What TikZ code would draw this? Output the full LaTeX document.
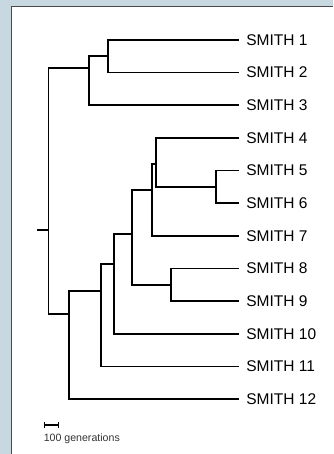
\documentclass[tikz,border=0pt]{standalone}
\usepackage{fontspec}
\setmainfont{Liberation Sans}
\definecolor{framebg}{HTML}{C7D8E1}
\definecolor{frameedge}{HTML}{4A4A4A}
\begin{document}
\begin{tikzpicture}[x=1pt,y=-1pt,
  branch/.style={line width=1.7pt, line cap=rect, line join=miter},
  tiplabel/.style={anchor=west, inner sep=0pt, font=\fontsize{15.5}{18}\selectfont},
  scalelabel/.style={anchor=west, inner sep=0pt, text=black!80, font=\fontsize{10.6}{12}\selectfont}]
\useasboundingbox (0,0) rectangle (333,454);
% window frame
\fill[framebg] (0,0) rectangle (333,454);
\fill[white] (11.5,6.5) rectangle (333,454);
\draw[frameedge, line width=1.2pt] (11.5,454) -- (11.5,6.5) -- (333,6.5);

% tips and their labels
\foreach \i in {1,...,12} {
  \pgfmathsetmacro{\ty}{40+32.64*(\i-1)}
  \coordinate (t\i) at (238,\ty);
  \node[tiplabel] (l\i) at (246.2,\ty) {SMITH \i};
}

% internal nodes (x = depth, y = where the parent branch attaches)
\coordinate (s) at (38.3,229.7);
\coordinate (r) at (48.5,229.7);
\coordinate (a) at (88.7,68);
\coordinate (b) at (107.7,56.3);
\coordinate (c) at (69.3,314);
\coordinate (d) at (100.7,290.7);
\coordinate (e) at (114.3,264.3);
\coordinate (f) at (132,233.7);
\coordinate (g) at (152.3,190.3);
\coordinate (h) at (171,284.8);
\coordinate (i) at (155.7,163.7);
\coordinate (j) at (216,186.7);

% branches
\draw[branch] (s) -- (r);
\foreach \p/\ch in {r/a, r/c, a/b, a/t3, b/t1, b/t2,
                    c/d, c/t12, d/e, d/t11, e/f, e/t10,
                    f/g, f/h, g/i, g/t7, i/t4, i/j,
                    j/t5, j/t6, h/t8, h/t9} {
  \draw[branch] (\p) |- (\ch);
}

% scale bar
\coordinate (sb1) at (44.3,425);
\coordinate (sb2) at (58.3,425);
\draw[line width=1.2pt] (sb1) -- (sb2);
\draw[line width=1.2pt] ([yshift=-2.8pt]sb1) -- ([yshift=2.8pt]sb1);
\draw[line width=1.2pt] ([yshift=-2.8pt]sb2) -- ([yshift=2.8pt]sb2);
\node[scalelabel] (sbl) at (43.6,439) {100 generations};
\end{tikzpicture}
\end{document}
